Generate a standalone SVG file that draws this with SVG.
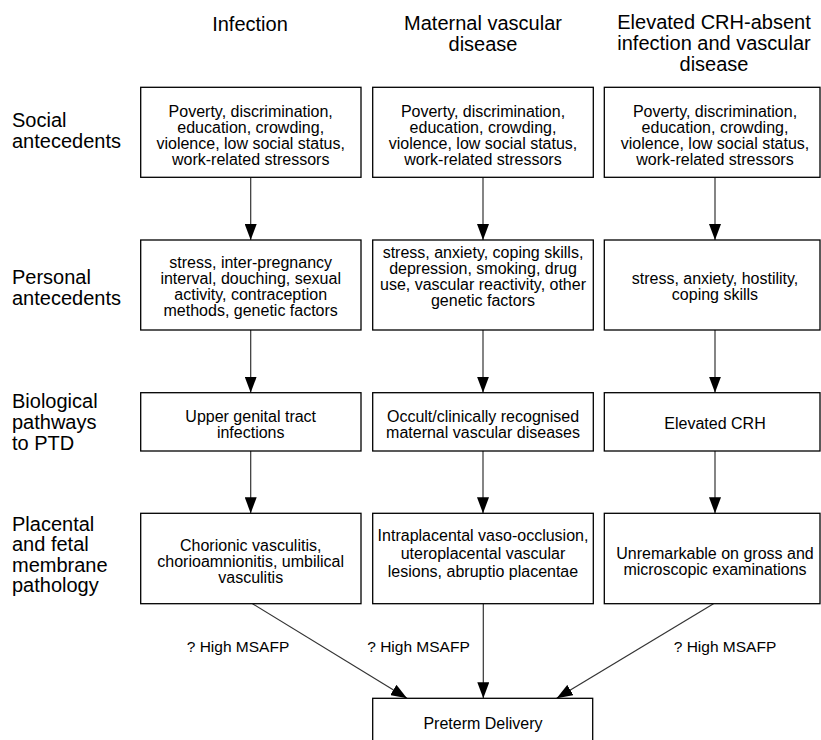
<svg xmlns="http://www.w3.org/2000/svg" width="821" height="740" viewBox="0 0 821 740">
<style>
  .bg { fill: #ffffff; }
  .box { fill: #ffffff; stroke: #000000; stroke-width: 1.3; }
  .t { font-family: "Liberation Sans", Arial, sans-serif; font-size: 16px; fill: #000000; text-anchor: middle; }
  .title { font-family: "Liberation Sans", Arial, sans-serif; font-size: 20px; fill: #000000; text-anchor: middle; }
  .lab { font-family: "Liberation Sans", Arial, sans-serif; font-size: 20px; fill: #000000; }
  .ms { font-family: "Liberation Sans", Arial, sans-serif; font-size: 15.5px; fill: #000000; text-anchor: middle; }
  .conn { stroke: #333333; stroke-width: 1.2; fill: none; marker-end: url(#ah); }
</style>
<defs>
  <marker id="ah" markerUnits="userSpaceOnUse" markerWidth="16" markerHeight="12" refX="16" refY="6" orient="auto">
    <path d="M0,0 L16,6 L0,12 z" fill="#000000"/>
  </marker>
</defs>
<rect class="bg" x="0" y="0" width="821" height="740"/>

<g id="titles">
  <text class="title" x="250" y="30.5">Infection</text>
  <text class="title" x="483" y="30">Maternal vascular</text>
  <text class="title" x="483" y="51">disease</text>
  <text class="title" x="714" y="29">Elevated CRH-absent</text>
  <text class="title" x="714" y="50">infection and vascular</text>
  <text class="title" x="714" y="71">disease</text>
</g>

<g id="row-labels">
  <text class="lab" x="12" y="126.5">Social</text>
  <text class="lab" x="12" y="147.5">antecedents</text>
  <text class="lab" x="12" y="284">Personal</text>
  <text class="lab" x="12" y="305">antecedents</text>
  <text class="lab" x="12" y="407.5">Biological</text>
  <text class="lab" x="12" y="428.5">pathways</text>
  <text class="lab" x="12" y="449.5">to PTD</text>
  <text class="lab" x="12" y="530.5">Placental</text>
  <text class="lab" x="12" y="551">and fetal</text>
  <text class="lab" x="12" y="571.5">membrane</text>
  <text class="lab" x="12" y="592">pathology</text>
</g>

<g id="connectors">
  <line class="conn" x1="250.7" y1="177.3" x2="250.7" y2="240"/>
  <line class="conn" x1="483" y1="177.3" x2="483" y2="240"/>
  <line class="conn" x1="715" y1="177.3" x2="715" y2="240"/>
  <line class="conn" x1="250.7" y1="330" x2="250.7" y2="392.7"/>
  <line class="conn" x1="483" y1="330" x2="483" y2="392.7"/>
  <line class="conn" x1="715" y1="330" x2="715" y2="392.7"/>
  <line class="conn" x1="250.7" y1="451" x2="250.7" y2="513.3"/>
  <line class="conn" x1="483" y1="451" x2="483" y2="513.3"/>
  <line class="conn" x1="715" y1="451" x2="715" y2="513.3"/>
  <line class="conn" x1="252.5" y1="603.7" x2="407" y2="698.3"/>
  <line class="conn" x1="483.3" y1="603.7" x2="483.3" y2="698.3"/>
  <line class="conn" x1="713.5" y1="603.7" x2="556.7" y2="698.3"/>
  <text class="ms" x="238" y="651.5">? High MSAFP</text>
  <text class="ms" x="418.5" y="651.5">? High MSAFP</text>
  <text class="ms" x="725" y="651.5">? High MSAFP</text>
</g>

<g id="social-infection">
  <rect class="box" x="140.7" y="87.3" width="220.3" height="90"/>
  <text class="t" x="250.7" y="116.8">Poverty, discrimination,</text>
  <text class="t" x="250.7" y="132.8">education, crowding,</text>
  <text class="t" x="250.7" y="148.8">violence, low social status,</text>
  <text class="t" x="250.7" y="164.8">work-related stressors</text>
</g>
<g id="social-vascular">
  <rect class="box" x="372.7" y="87.3" width="220.6" height="90"/>
  <text class="t" x="483" y="116.8">Poverty, discrimination,</text>
  <text class="t" x="483" y="132.8">education, crowding,</text>
  <text class="t" x="483" y="148.8">violence, low social status,</text>
  <text class="t" x="483" y="164.8">work-related stressors</text>
</g>
<g id="social-crh">
  <rect class="box" x="604.3" y="87.3" width="215.7" height="90"/>
  <text class="t" x="715" y="116.8">Poverty, discrimination,</text>
  <text class="t" x="715" y="132.8">education, crowding,</text>
  <text class="t" x="715" y="148.8">violence, low social status,</text>
  <text class="t" x="715" y="164.8">work-related stressors</text>
</g>

<g id="personal-infection">
  <rect class="box" x="140.7" y="240" width="220.3" height="90"/>
  <text class="t" x="250.7" y="268">stress, inter-pregnancy</text>
  <text class="t" x="250.7" y="284">interval, douching, sexual</text>
  <text class="t" x="250.7" y="300">activity, contraception</text>
  <text class="t" x="250.7" y="316">methods, genetic factors</text>
</g>
<g id="personal-vascular">
  <rect class="box" x="372.7" y="240" width="220.6" height="90"/>
  <text class="t" x="483" y="258.3">stress, anxiety, coping skills,</text>
  <text class="t" x="483" y="274.3">depression, smoking, drug</text>
  <text class="t" x="483" y="290.3">use, vascular reactivity, other</text>
  <text class="t" x="483" y="306.3">genetic factors</text>
</g>
<g id="personal-crh">
  <rect class="box" x="604.3" y="240" width="215.7" height="90"/>
  <text class="t" x="715" y="284.3">stress, anxiety, hostility,</text>
  <text class="t" x="715" y="300.3">coping skills</text>
</g>

<g id="bio-infection">
  <rect class="box" x="140.7" y="392.7" width="220.3" height="58.3"/>
  <text class="t" x="250.7" y="421.8">Upper genital tract</text>
  <text class="t" x="250.7" y="437.8">infections</text>
</g>
<g id="bio-vascular">
  <rect class="box" x="372.7" y="392.7" width="220.6" height="58.3"/>
  <text class="t" x="483" y="421.8">Occult/clinically recognised</text>
  <text class="t" x="483" y="437.8">maternal vascular diseases</text>
</g>
<g id="bio-crh">
  <rect class="box" x="604.3" y="392.7" width="215.7" height="58.3"/>
  <text class="t" x="715" y="428.5">Elevated CRH</text>
</g>

<g id="path-infection">
  <rect class="box" x="140.7" y="513.3" width="220.3" height="90.4"/>
  <text class="t" x="250.7" y="551">Chorionic vasculitis,</text>
  <text class="t" x="250.7" y="567">chorioamnionitis, umbilical</text>
  <text class="t" x="250.7" y="583">vasculitis</text>
</g>
<g id="path-vascular">
  <rect class="box" x="372.7" y="513.3" width="220.6" height="90.4"/>
  <text class="t" x="483" y="540.7">Intraplacental vaso-occlusion,</text>
  <text class="t" x="483" y="559">uteroplacental vascular</text>
  <text class="t" x="483" y="577.3">lesions, abruptio placentae</text>
</g>
<g id="path-crh">
  <rect class="box" x="604.3" y="513.3" width="215.7" height="90.4"/>
  <text class="t" x="715" y="558.5">Unremarkable on gross and</text>
  <text class="t" x="715" y="574.5">microscopic examinations</text>
</g>

<g id="preterm-delivery">
  <rect class="box" x="372.7" y="698.3" width="220" height="60"/>
  <text class="t" x="483" y="729">Preterm Delivery</text>
</g>
</svg>
